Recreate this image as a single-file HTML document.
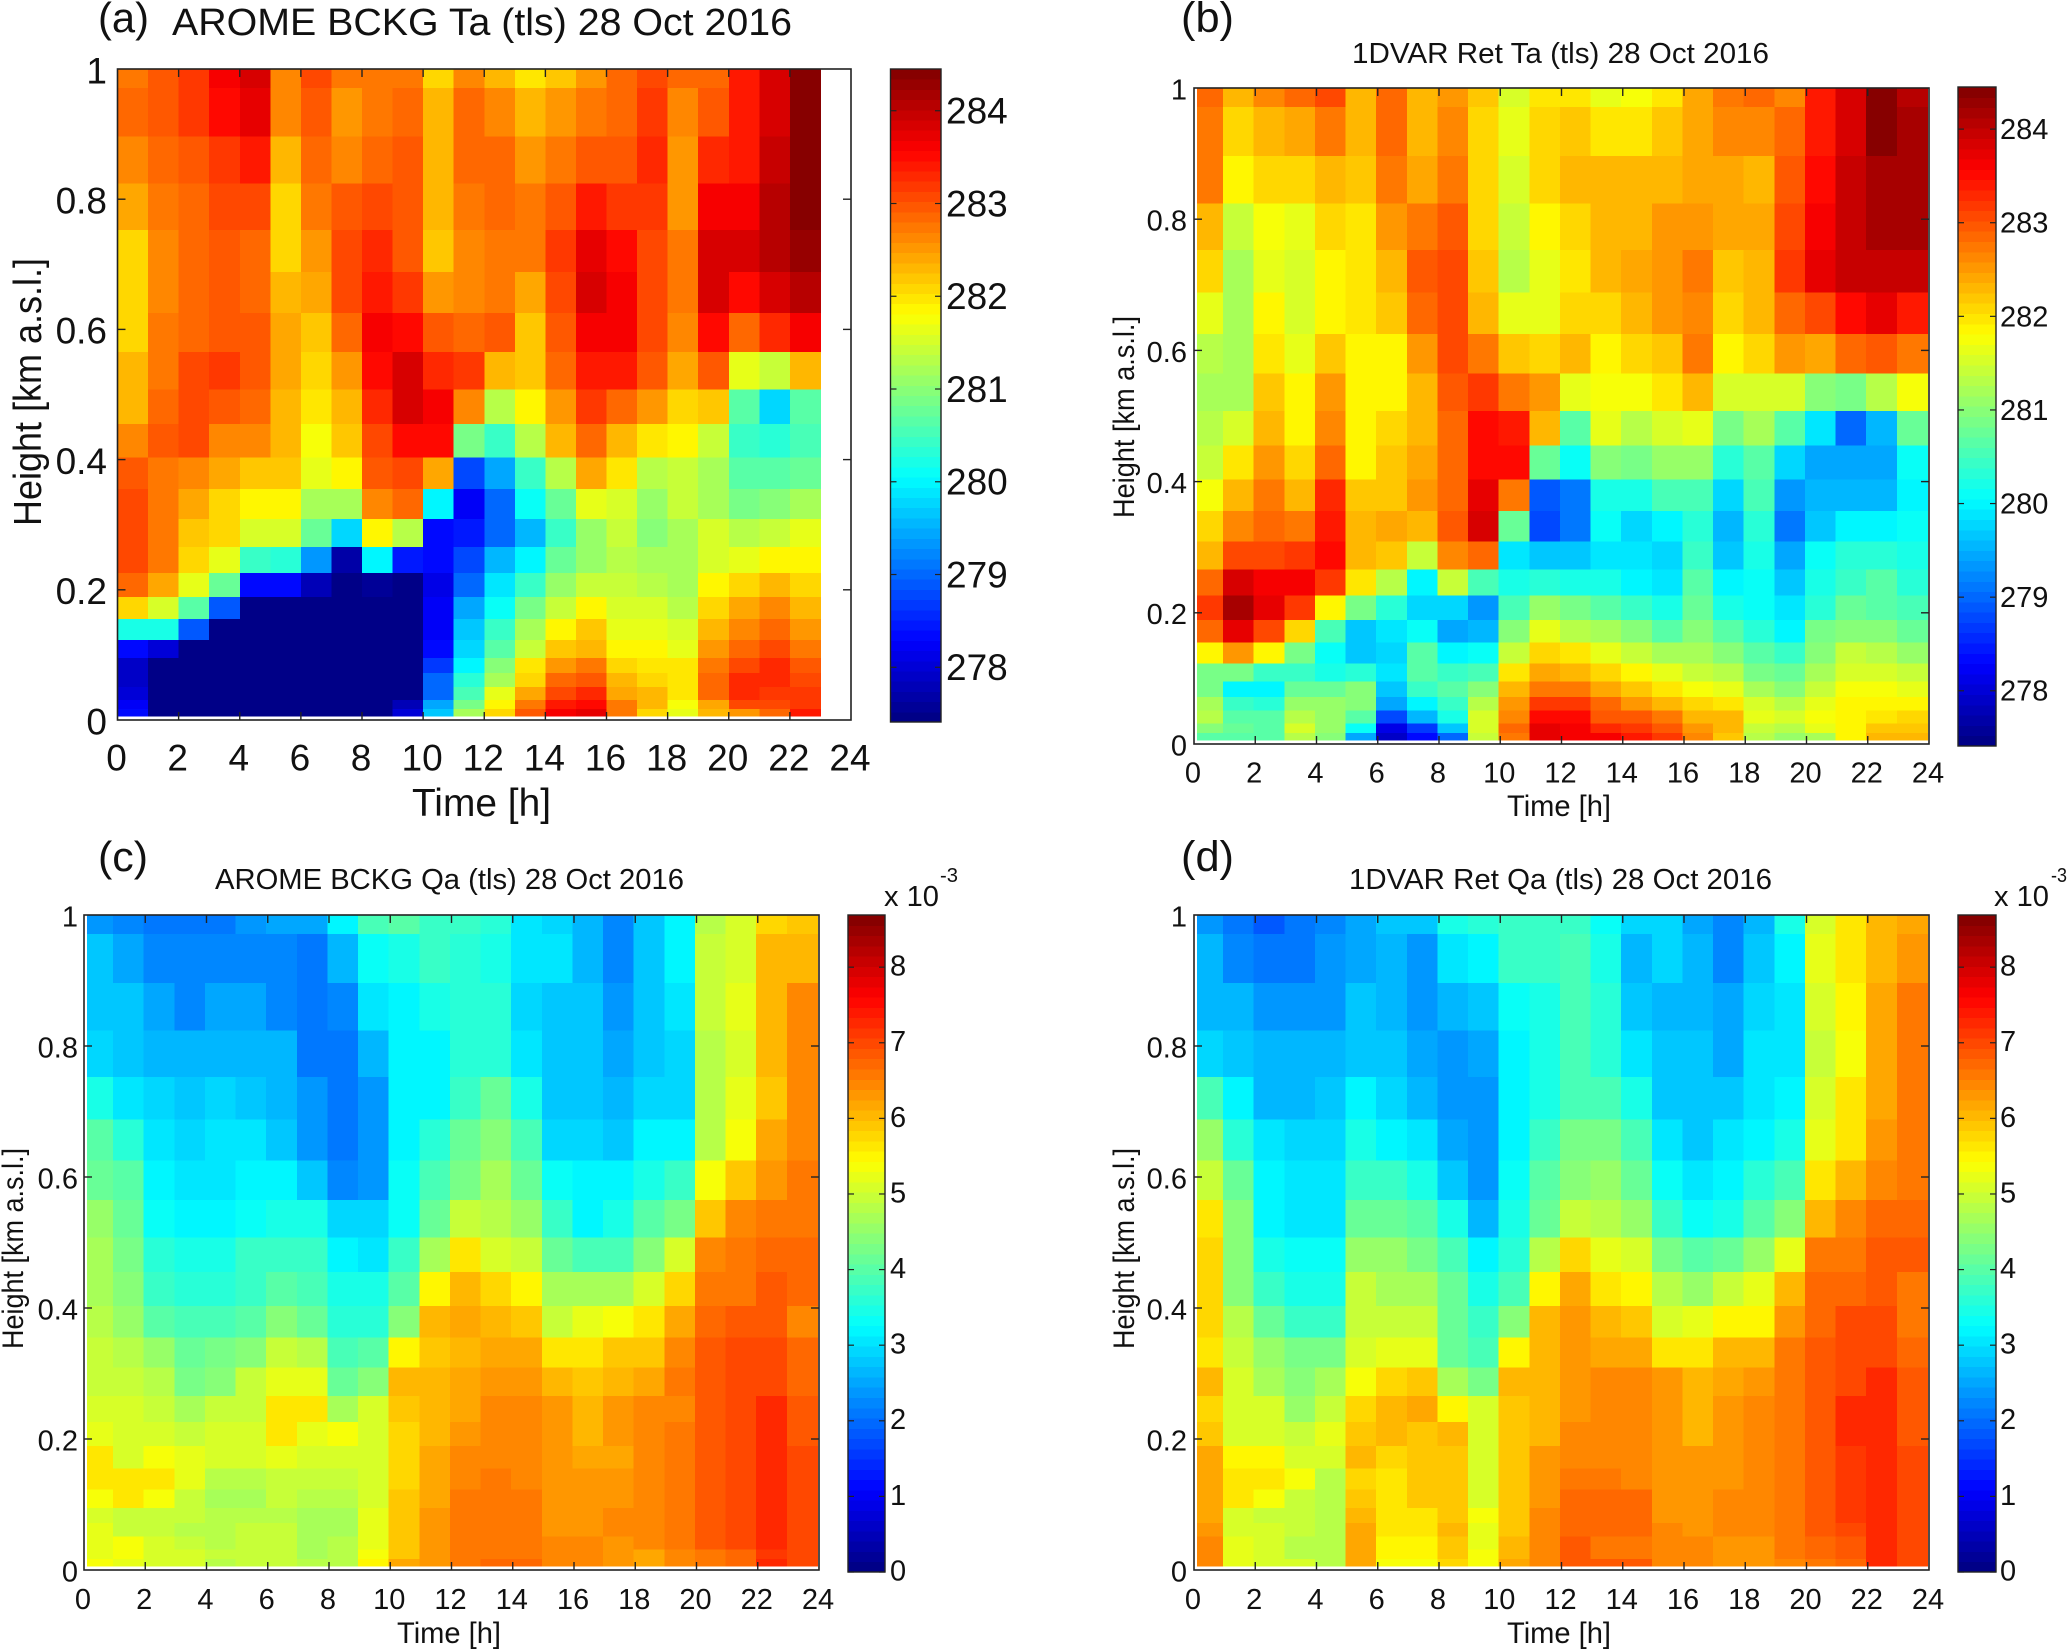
<!DOCTYPE html>
<html lang="en">
<head>
<meta charset="utf-8">
<title>AROME and 1DVAR profiles 28 Oct 2016</title>
<style>
html,body{margin:0;padding:0;background:#fff;}
svg{display:block;}
text{font-family:"Liberation Sans",sans-serif;fill:#111;}
</style>
</head>
<body>
<svg id="figure" xmlns="http://www.w3.org/2000/svg" width="2067" height="1649" viewBox="0 0 2067 1649">
  <rect x="0" y="0" width="2067" height="1649" fill="#fff"/>

  <g id="panel-a"></g>
  <g id="panel-b"></g>
  <g id="panel-c"></g>
  <g id="panel-d"></g>

  <text x="98" y="32" font-size="42" textLength="51" lengthAdjust="spacingAndGlyphs">(a)</text>
  <text x="172" y="35" font-size="38" textLength="620" lengthAdjust="spacingAndGlyphs">AROME BCKG Ta (tls) 28 Oct 2016</text>
  <text x="412" y="816" font-size="39" textLength="139" lengthAdjust="spacingAndGlyphs">Time [h]</text>
  <text transform="translate(41 526) rotate(-90)" font-size="39" textLength="268" lengthAdjust="spacingAndGlyphs">Height [km a.s.l.]</text>

  <text x="1181" y="32" font-size="43" textLength="53" lengthAdjust="spacingAndGlyphs">(b)</text>
  <text x="1352" y="63" font-size="29" textLength="417" lengthAdjust="spacingAndGlyphs">1DVAR Ret Ta (tls) 28 Oct 2016</text>
  <text x="1507" y="816" font-size="30" textLength="104" lengthAdjust="spacingAndGlyphs">Time [h]</text>
  <text transform="translate(1134 518) rotate(-90)" font-size="30" textLength="202" lengthAdjust="spacingAndGlyphs">Height [km a.s.l.]</text>

  <text x="98" y="871" font-size="42" textLength="50" lengthAdjust="spacingAndGlyphs">(c)</text>
  <text x="215" y="889" font-size="29" textLength="469" lengthAdjust="spacingAndGlyphs">AROME BCKG Qa (tls) 28 Oct 2016</text>
  <text x="397" y="1643" font-size="30" textLength="104" lengthAdjust="spacingAndGlyphs">Time [h]</text>
  <text transform="translate(23 1349) rotate(-90)" font-size="30" textLength="201" lengthAdjust="spacingAndGlyphs">Height [km a.s.l.]</text>
  <text x="884" y="906" font-size="29" textLength="55" lengthAdjust="spacingAndGlyphs">x 10</text>
  <text x="940" y="882" font-size="20" textLength="18" lengthAdjust="spacingAndGlyphs">-3</text>

  <text x="1181" y="871" font-size="43" textLength="53" lengthAdjust="spacingAndGlyphs">(d)</text>
  <text x="1349" y="889" font-size="29" textLength="423" lengthAdjust="spacingAndGlyphs">1DVAR Ret Qa (tls) 28 Oct 2016</text>
  <text x="1507" y="1643" font-size="30" textLength="104" lengthAdjust="spacingAndGlyphs">Time [h]</text>
  <text transform="translate(1134 1349) rotate(-90)" font-size="30" textLength="201" lengthAdjust="spacingAndGlyphs">Height [km a.s.l.]</text>
  <text x="1994" y="906" font-size="29" textLength="55" lengthAdjust="spacingAndGlyphs">x 10</text>
  <text x="2051" y="882" font-size="20" textLength="16" lengthAdjust="spacingAndGlyphs">-3</text>
</svg>
<script>
// Shared axis data
var heightEdges = [0.006,0.017,0.031,0.051,0.072,0.095,0.123,0.155,0.189,0.226,0.266,0.309,0.355,0.403,0.455,0.508,0.565,0.625,0.688,0.753,0.824,0.896,0.971,1.0];
var timeEdgesArome = [0,1,2,3,4,5,6,7,8,9,10,11,12,13,14,15,16,17,18,19,20,21,22,23];
var timeEdgesFull = [0.1,0.95,1.95,2.95,3.95,4.95,5.95,6.95,7.95,8.95,9.95,10.95,11.95,12.95,13.95,14.95,15.95,16.95,17.95,18.95,19.95,20.95,21.95,22.95,23.95];
var timeTicks = [0,2,4,6,8,10,12,14,16,18,20,22,24];
var heightTicks = [0,0.2,0.4,0.6,0.8,1];
var heightTickLabels = ['0','0.2','0.4','0.6','0.8','1'];
var taColorbarTicks = [278,279,280,281,282,283,284];
var qaColorbarTicks = [0,1,2,3,4,5,6,7,8];
var taRange = [277.41,284.45];
var qaRange = [0,8.69];

// Panel (a) air temperature [K]; rows run from the top of the plot down
var aromeTa = [
[282.7,283.0,283.2,283.6,283.85,282.6,283.1,282.7,282.7,282.7,282.1,282.6,282.35,281.95,282.15,282.5,282.9,283.1,282.8,282.85,283.4,283.8,284.45],
[282.8,283,283.2,283.5,283.7,282.6,283.0,282.55,282.75,282.85,282.35,282.8,282.65,282.25,282.5,282.7,282.9,283.15,282.6,283.0,283.4,283.8,284.45],
[282.6,282.8,282.95,283.2,283.4,282.35,282.9,282.65,282.85,283.0,282.35,282.85,282.85,282.5,282.7,283.0,283.0,283.25,282.5,283.3,283.45,283.95,284.45],
[282.4,282.7,282.85,283.05,283.05,282.1,282.7,282.95,283.1,283,282.25,282.7,282.85,282.7,283,283.45,283.2,283.2,282.5,283.6,283.6,284.05,284.4],
[282.1,282.6,282.8,282.95,282.85,282.1,282.5,283.05,283.25,282.95,282.2,282.6,282.75,282.7,283.2,283.7,283.5,283.1,282.7,283.85,283.8,284.05,284.3],
[282.1,282.6,282.8,283,282.8,282.25,282.4,283.1,283.45,283.2,282.55,282.6,282.75,282.4,283.1,283.85,283.6,283.1,282.7,283.85,283.55,283.8,284.1],
[282.1,282.7,282.9,283.0,282.95,282.4,282.2,282.85,283.6,283.5,282.95,282.85,282.95,282.2,283.0,283.65,283.65,283.1,282.65,283.5,282.8,283.3,283.65],
[282.25,282.7,283.05,283.2,282.95,282.4,282.05,282.55,283.5,283.85,283.25,283.15,282.3,282.15,282.9,283.45,283.45,283,282.4,282.95,281.65,281.4,282.35],
[282.3,282.85,283.1,283,282.85,282.3,281.95,282.3,283.25,283.9,283.6,282.6,281.3,281.9,282.5,283.2,282.8,282.5,282.05,282.2,280.7,279.8,280.6],
[282.6,283,283.05,282.65,282.65,282.35,281.75,282.15,283.1,283.5,283.5,280.9,280.4,281.35,282.25,282.9,282.35,281.95,281.85,281.45,280.45,280.3,280.5],
[282.95,282.7,282.65,282.4,282.2,282.15,281.6,281.85,282.95,283.1,282.4,278.8,279.4,280.4,281.3,282.4,281.95,281.3,281.45,281.2,280.6,280.65,280.8],
[283.1,282.75,282.4,282.1,281.85,281.85,281.25,281.2,282.65,282.8,280.0,278.25,279,280.05,280.75,281.65,281.5,281.1,281.4,281.2,280.9,281,281.2],
[283.05,282.7,282.15,282.05,281.5,281.5,280.75,279.75,281.85,281.35,278.35,278.45,279.05,279.55,280.45,281.15,281.4,281.0,281.2,281.5,281.35,281.45,281.6],
[283.05,282.7,282.05,281.65,280.4,280.35,279.3,277.7,280.0,278.45,278.35,278.8,279.6,280.0,280.75,281.05,281.35,281.25,281.25,281.55,281.7,281.85,281.85],
[282.85,282.45,281.65,280.8,278.4,278.3,277.75,277.45,277.55,277.45,278.15,279.05,279.85,280.4,281.05,281.45,281.45,281.35,281.2,281.85,282.05,282.3,282.05],
[282.05,281.55,280.7,278.85,277.4,277.4,277.4,277.4,277.4,277.4,278.25,279.4,280.15,280.85,281.45,281.85,281.55,281.55,281.3,282.05,282.45,282.65,282.3],
[280.2,280.2,278.85,277.4,277.4,277.4,277.4,277.4,277.4,277.4,278.25,279.7,280.4,281.25,281.85,282.15,281.65,281.65,281.5,282.25,282.65,282.8,282.55],
[278.35,278.0,277.4,277.4,277.4,277.4,277.4,277.4,277.4,277.4,278.4,279.8,280.6,281.45,282.15,282.35,281.85,281.85,281.6,282.55,282.85,283.1,282.75],
[277.9,277.4,277.4,277.4,277.4,277.4,277.4,277.4,277.4,277.4,278.7,280,280.95,281.95,282.5,282.75,282.05,281.95,281.95,282.75,283.1,283.25,283.0],
[277.85,277.4,277.4,277.4,277.4,277.4,277.4,277.4,277.4,277.4,279,280.3,281.2,282.1,282.85,283.0,282.25,282.1,281.95,282.9,283.3,283.3,283.1],
[278.05,277.4,277.4,277.4,277.4,277.4,277.4,277.4,277.4,277.5,279,280.55,281.6,282.45,283.05,283.25,282.45,282.25,281.95,282.85,283.3,283.2,283.15],
[278.25,277.4,277.4,277.4,277.4,277.4,277.4,277.4,277.4,277.8,279.45,280.9,281.85,282.7,283.35,283.5,282.7,282.3,281.8,282.45,283.1,283.1,283.2],
[278.3,277.4,277.4,277.4,277.4,277.4,277.4,277.4,277.4,278.0,279.7,281.2,282.05,282.95,283.6,283.7,282.75,282.1,281.65,282.3,282.5,282.9,283.35]
];

// Panel (b) retrieved air temperature [K]
var retrievedTa = [
[282.8,282.3,282.65,282.9,283.05,282.35,282.8,282.35,282.5,282.15,281.5,282,282,281.65,281.8,281.95,282.45,282.7,282.85,282.6,283.4,283.85,284.4,284.05],
[282.7,282.05,282.35,282.45,282.75,282.3,282.8,282.35,282.6,282.1,281.65,282.05,282.15,282,282,282.15,282.45,282.6,282.6,282.85,283.4,283.9,284.4,284.2],
[282.7,281.85,282.05,282.05,282.3,282.15,282.75,282.45,282.75,282.1,281.55,282.05,282.25,282.25,282.25,282.3,282.45,282.45,282.3,283.0,283.55,284,284.2,284.2],
[282.3,281.4,281.8,281.65,282.1,281.95,282.5,282.7,282.95,282.1,281.45,281.85,282.1,282.3,282.35,282.5,282.5,282.4,282.4,283.1,283.65,284,284.15,284.2],
[282.05,281.2,281.6,281.5,281.9,282,282.3,282.95,283.05,282.2,281.35,281.6,282,282.3,282.4,282.55,282.7,282.2,282.35,283.2,283.7,283.95,284,283.95],
[281.65,281.2,281.85,281.5,281.85,282,282.15,282.8,283.05,282.3,281.6,281.6,282.05,282.05,282.35,282.55,282.65,282.05,282.35,282.9,283.1,283.55,283.7,283.4],
[281.3,281.25,282.0,281.6,282.2,281.9,281.9,282.5,283.1,282.75,282.2,282.05,282.3,281.85,282.05,282.2,282.75,281.85,282.05,282.55,282.4,282.85,282.95,282.75],
[281.2,281.2,282.15,281.9,282.55,281.9,281.9,282.35,283.0,283.2,282.75,282.5,281.6,281.8,281.8,281.95,282.35,281.5,281.55,281.55,281,280.9,281.35,281.8],
[281.35,281.5,282.3,281.9,282.65,281.9,282.05,282.35,282.9,283.5,283.35,282.35,280.6,281.65,281.3,281.5,281.7,280.9,281.2,280.6,279.9,279.0,279.6,280.8],
[281.4,281.95,282.55,282.05,282.85,281.9,282.2,282.45,282.8,283.55,283.55,280.75,280.1,281,280.9,281.1,281.1,280.3,280.7,279.75,279.5,279.4,279.4,280.1],
[281.8,282.25,282.7,282.3,283.3,282.2,282.2,282.5,282.8,283.7,282.75,278.85,279.1,280.2,280.2,280.5,280.5,279.8,280.55,279.3,279.55,279.55,279.55,280.0],
[282.1,282.65,282.85,282.7,283.45,282.3,282.4,282.3,283,283.9,280.75,278.8,279.1,280.05,279.8,280.0,280.35,279.6,280.3,279.1,279.7,280,280,280.15],
[282.35,283.1,283.1,283.2,283.55,282.35,282.15,281.4,282.65,282.9,279.85,279.7,279.7,279.85,279.85,279.75,280.4,279.7,280.2,279.4,280.05,280.3,280.35,280.2],
[282.85,283.85,283.6,283.6,283.15,281.95,281.35,280,281.4,280.55,280.2,280.3,280.25,280.2,280,279.85,280.6,280,280.1,279.7,280.25,280.45,280.6,280.3],
[283.2,284.15,283.7,283.2,281.85,280.85,280.3,279.8,279.75,279.3,280.55,281.05,280.85,280.7,280.45,280.2,280.8,280.25,280.15,279.85,280.35,280.8,280.7,280.5],
[282.85,283.7,283.1,282.05,280.55,279.7,279.85,280.15,279.4,279.55,280.95,281.6,281.3,281.2,281,280.65,280.95,280.6,280.3,279.95,280.85,281,281,280.75],
[281.85,282.55,281.85,280.85,280.15,279.7,279.8,280.6,279.95,280.1,281.45,282.1,282,281.65,281.45,281.2,281.2,281,280.6,280.4,281,281.4,281.3,281.1],
[280.9,280.9,280.4,280.4,280.25,280.35,279.9,280.7,280.4,280.55,281.95,282.4,282.3,282.1,281.85,281.7,281.45,281.3,280.85,280.75,281.2,281.5,281.55,281.4],
[280.9,280.0,280,280.75,280.8,280.95,279.65,280.45,280.65,281,282.3,282.75,282.75,282.45,282.2,281.95,281.8,281.65,281.2,280.95,281.4,281.75,281.75,281.6],
[281.2,280.4,280.35,281.15,281.05,281,279.4,280,280.45,281.3,282.55,283.15,283.2,282.8,282.55,282.3,282.05,282.0,281.5,281.35,281.6,281.85,281.85,281.85],
[281.35,280.65,280.65,281.35,281.15,280.65,278.8,279.55,280.2,281.55,282.65,283.55,283.5,283,282.95,282.7,282.3,282.3,281.6,281.5,281.75,281.85,282,282.1],
[281.0,280.8,280.6,281.5,281.1,280.05,278.1,278.65,279.7,281.5,282.85,283.7,283.6,283.3,283.2,283,282.5,282.3,281.4,281.3,281.7,281.9,282.15,282.15],
[280.65,280.6,280.6,281.35,280.95,279.5,277.95,278.3,279.0,281.45,282.7,283.7,283.6,283.6,283.4,283.2,282.65,282.15,281.35,281.15,281.2,281.9,282.3,282.3]
];

// Panel (c) specific humidity [x 10^-3]
var aromeQa = [
[2.35,2.2,2.15,2.1,2.1,2.35,2.5,2.5,3.15,3.9,4.0,3.8,3.75,3.65,3.0,2.95,2.7,2.25,2.75,3.25,4.85,5.1,5.8,5.9],
[2.75,2.45,2.2,2.2,2.3,2.3,2.3,2.15,2.6,3.3,3.5,3.7,3.6,3.45,3.0,3.0,2.65,2.3,2.85,3.15,5.0,5.15,6.0,6.1],
[2.75,2.75,2.55,2.3,2.55,2.55,2.3,2.15,2.3,3.0,3.2,3.45,3.55,3.55,2.9,2.75,2.75,2.4,2.85,3.0,5.0,5.2,6.0,6.4],
[2.95,2.85,2.7,2.7,2.7,2.7,2.6,2.15,2.1,2.6,3.2,3.25,3.6,3.6,3.1,2.75,2.75,2.5,2.85,2.9,4.85,5.15,6.05,6.45],
[3.45,3.1,2.95,2.8,2.95,2.8,2.65,2.35,2.1,2.4,3.2,3.2,3.7,4.15,3.45,2.75,2.75,2.6,2.95,2.95,4.8,5.2,5.95,6.45],
[3.95,3.6,3.05,2.9,3.1,3.0,2.85,2.35,2.15,2.35,3.2,3.6,4.2,4.4,3.9,2.95,2.95,2.85,3.2,3.2,4.85,5.4,6.2,6.5],
[4.2,4.0,3.25,3.1,3.1,3.25,3.25,2.85,2.3,2.4,3.35,3.9,4.3,4.7,4.2,3.35,3.2,3.2,3.4,3.7,5.35,5.85,6.35,6.6],
[4.6,4.2,3.35,3.2,3.2,3.3,3.45,3.4,2.9,2.9,3.3,4.2,5.0,4.8,4.5,3.8,3.25,3.4,4.0,4.3,5.95,6.4,6.6,6.65],
[4.7,4.25,3.55,3.4,3.4,3.7,3.8,3.75,3.15,3.05,3.7,4.65,5.6,5.1,5.0,4.2,3.9,3.85,4.45,5.05,6.5,6.65,6.75,6.75],
[4.75,4.4,3.7,3.6,3.6,3.75,3.95,3.9,3.5,3.5,3.95,5.45,6.05,5.75,5.45,4.7,4.7,4.7,5.1,5.8,6.65,6.65,6.85,6.75],
[4.8,4.5,4.05,3.85,3.85,4.0,4.4,4.15,3.6,3.6,4.4,6.1,6.15,6.1,5.85,5.0,5.2,5.4,5.6,6.15,6.7,6.9,6.9,6.5],
[5.0,4.85,4.6,4.15,4.25,4.4,4.95,4.8,3.9,3.95,5.45,5.85,6.1,6.2,6.2,5.65,5.65,5.95,5.9,6.45,6.8,7.0,6.95,6.75],
[5.0,4.95,4.8,4.3,4.4,4.95,5.2,5.2,4.2,4.35,6.0,6.05,6.2,6.35,6.35,6.1,5.95,6.1,6.15,6.55,6.9,7.0,7.0,6.75],
[5.05,5.05,4.9,4.65,5.0,5.0,5.6,5.6,4.75,5.05,5.95,6.1,6.2,6.5,6.5,6.3,6.05,6.25,6.45,6.45,6.85,7.05,7.25,6.85],
[5.2,5.05,5.05,4.9,5.1,5.1,5.6,5.2,5.4,5.15,5.8,6.1,6.3,6.5,6.5,6.3,6.05,6.25,6.45,6.6,6.85,7.05,7.25,6.85],
[5.7,5.15,5.4,5.2,5.1,5.1,5.2,5.05,5.05,5.05,5.8,6.2,6.5,6.5,6.5,6.3,6.2,6.2,6.45,6.6,6.85,7.05,7.2,7.0],
[5.7,5.7,5.7,5.2,4.8,4.8,4.9,4.9,4.9,5.05,5.75,6.2,6.4,6.6,6.4,6.3,6.3,6.3,6.45,6.6,6.85,7.05,7.25,7.0],
[5.4,5.7,5.4,4.95,4.75,4.75,4.95,4.8,4.8,5.05,5.9,6.2,6.6,6.6,6.6,6.3,6.3,6.3,6.4,6.6,6.85,7.05,7.25,7.0],
[5.15,5.0,5.0,4.9,4.8,4.8,4.8,4.65,4.65,5.25,5.95,6.35,6.6,6.6,6.6,6.3,6.3,6.45,6.45,6.6,6.85,7.05,7.25,7.0],
[5.2,5.0,5.0,4.85,4.85,4.9,4.9,4.65,4.65,5.25,5.95,6.35,6.6,6.6,6.6,6.3,6.3,6.45,6.45,6.6,6.85,7.0,7.25,7.0],
[5.2,5.3,5.05,4.9,4.85,4.95,4.95,4.65,4.8,5.25,5.95,6.35,6.55,6.55,6.55,6.5,6.5,6.35,6.5,6.55,6.85,6.95,7.25,7.0],
[5.25,5.3,5.15,5.1,4.9,4.95,4.95,4.7,4.8,5.4,5.95,6.35,6.55,6.55,6.55,6.5,6.5,6.35,6.2,6.4,6.6,6.75,7.15,7.0],
[5.3,5.2,5.05,5.05,4.85,5.0,4.95,4.8,4.8,5.45,6.2,6.35,6.55,6.75,6.75,6.5,6.5,6.35,6.15,6.45,6.6,6.75,7.25,7.0]
];

// Panel (d) retrieved specific humidity [x 10^-3]
var retrievedQa = [
[2.35,2.15,1.9,2.1,2.3,2.5,2.75,2.85,3.5,3.55,3.75,3.8,3.75,3.3,2.9,2.95,2.55,2.3,2.65,3.5,5.15,5.65,6.0,6.15],
[2.7,2.3,2.15,2.15,2.35,2.55,2.6,2.4,3.05,3.2,3.7,3.8,3.9,3.5,2.65,2.9,2.6,2.3,2.75,3.15,5.25,5.65,6.0,6.3],
[2.7,2.6,2.35,2.35,2.35,2.8,2.65,2.4,2.6,2.85,3.3,3.5,3.85,3.6,2.8,2.65,2.65,2.45,2.95,3.05,5.05,5.55,6.15,6.6],
[2.95,2.85,2.6,2.6,2.6,2.85,2.75,2.45,2.4,2.55,3.25,3.45,3.85,3.65,3.05,2.75,2.75,2.55,3.0,3.05,5.0,5.35,6.2,6.65],
[3.9,3.2,2.7,2.7,2.85,3.2,2.95,2.6,2.4,2.4,3.2,3.5,3.9,3.9,3.5,2.8,2.8,2.85,3.05,3.2,5.1,5.65,6.2,6.6],
[4.5,3.55,3.05,2.9,2.9,3.5,3.2,3.0,2.55,2.4,3.25,3.7,4.25,4.3,3.85,3.05,2.85,3.0,3.2,3.45,5.2,5.7,6.3,6.65],
[5.0,4.1,3.25,3.1,3.1,3.8,3.7,3.5,2.85,2.4,3.3,4.05,4.4,4.6,4.1,3.3,3.0,3.25,3.6,3.85,5.6,6.0,6.5,6.65],
[5.6,4.35,3.25,3.1,3.1,4.2,4.2,4.05,3.4,2.7,3.4,4.2,5.0,4.8,4.5,3.8,3.3,3.45,4.0,4.45,6.1,6.4,6.7,6.7],
[5.75,4.4,3.4,3.3,3.3,4.5,4.5,4.3,3.85,3.15,3.6,4.8,5.75,5.2,5.05,4.25,3.95,4.15,4.55,5.2,6.55,6.65,6.8,6.8],
[5.8,4.35,3.7,3.5,3.5,4.9,4.75,4.75,4.2,3.45,3.9,5.5,6.2,5.65,5.45,4.85,4.55,4.95,5.2,6.05,6.7,6.7,6.85,6.65],
[5.8,4.8,4.1,3.8,3.8,4.95,4.95,4.95,4.15,3.75,4.4,6.1,6.35,6.1,5.9,5.15,5.25,5.55,5.55,6.35,6.75,6.95,6.95,6.55],
[5.6,4.9,4.5,4.25,4.25,5.1,5.25,5.25,4.2,3.9,5.5,6.0,6.25,6.2,6.2,5.7,5.65,6.05,6.0,6.55,6.85,7.05,7.05,6.7],
[6.0,5.05,4.65,4.4,4.7,5.4,5.8,5.95,4.75,4.3,6.05,6.1,6.25,6.45,6.45,6.3,6.0,6.2,6.35,6.55,6.85,7.0,7.2,6.85],
[5.8,5.15,5.05,4.6,4.9,5.75,6.0,6.15,5.45,5.1,5.85,6.05,6.35,6.5,6.5,6.3,6.05,6.35,6.45,6.6,6.85,7.3,7.3,6.85],
[5.95,5.15,5.15,4.9,5.2,5.95,6.05,5.9,6.0,5.15,5.85,6.1,6.5,6.5,6.5,6.3,6.05,6.35,6.45,6.6,6.85,7.3,7.3,6.85],
[6.15,5.45,5.45,5.05,5.15,6.0,5.8,5.9,5.9,5.15,5.85,6.25,6.5,6.5,6.5,6.35,6.25,6.35,6.45,6.6,6.85,7.15,7.3,7.0],
[6.2,5.6,5.6,5.3,4.85,5.8,5.6,5.9,5.9,5.1,5.85,6.25,6.65,6.65,6.5,6.35,6.25,6.35,6.45,6.6,6.85,7.15,7.3,7.0],
[6.2,5.6,5.3,4.9,4.85,5.95,5.6,5.9,5.9,5.1,5.95,6.25,6.7,6.7,6.7,6.35,6.35,6.45,6.45,6.6,6.85,7.15,7.3,7.0],
[6.2,5.1,5.0,4.9,4.85,6.1,5.7,5.7,5.85,5.3,5.95,6.4,6.7,6.7,6.7,6.35,6.35,6.5,6.5,6.6,6.85,7.15,7.3,7.0],
[6.35,5.15,5.1,4.9,4.85,6.2,5.7,5.7,6.0,5.25,5.95,6.4,6.7,6.7,6.7,6.45,6.35,6.5,6.5,6.6,6.85,7.0,7.2,7.0],
[6.4,5.25,5.1,4.85,4.85,6.15,5.55,5.55,5.9,5.25,6.0,6.4,6.8,6.65,6.65,6.5,6.5,6.35,6.35,6.6,6.75,6.85,7.2,7.0],
[6.4,5.25,5.1,4.85,4.85,6.15,5.5,5.5,5.85,5.3,6.0,6.4,6.8,6.65,6.65,6.5,6.5,6.35,6.35,6.55,6.75,6.85,7.25,7.0],
[6.4,5.25,5.1,5.05,4.85,6.2,5.35,5.35,5.75,5.4,6.2,6.4,6.85,6.85,6.85,6.5,6.5,6.35,6.25,6.45,6.6,6.75,7.25,7.0]
];

var SVG_NS = 'http://www.w3.org/2000/svg';
var COLOR_LEVELS = 64;

function clamp01(v) { return Math.max(0, Math.min(1, v)); }

function jet(t) {
  var q = (Math.min(COLOR_LEVELS - 1, Math.floor(clamp01(t) * COLOR_LEVELS)) + 0.5) / COLOR_LEVELS;
  var r = clamp01(Math.min(4 * q - 1.5, -4 * q + 4.5));
  var g = clamp01(Math.min(4 * q - 0.5, -4 * q + 3.5));
  var b = clamp01(Math.min(4 * q + 0.5, -4 * q + 2.5));
  return 'rgb(' + Math.round(r * 255) + ',' + Math.round(g * 255) + ',' + Math.round(b * 255) + ')';
}

function makeRect(parent, x, y, w, h, fill) {
  var el = document.createElementNS(SVG_NS, 'rect');
  el.setAttribute('x', x);
  el.setAttribute('y', y);
  el.setAttribute('width', w);
  el.setAttribute('height', h);
  el.setAttribute('fill', fill);
  parent.appendChild(el);
  return el;
}

function makeLine(parent, x1, y1, x2, y2, width) {
  var el = document.createElementNS(SVG_NS, 'line');
  el.setAttribute('x1', x1);
  el.setAttribute('y1', y1);
  el.setAttribute('x2', x2);
  el.setAttribute('y2', y2);
  el.setAttribute('stroke', '#222');
  el.setAttribute('stroke-width', width);
  parent.appendChild(el);
  return el;
}

function makeText(parent, x, y, size, anchor, str) {
  var el = document.createElementNS(SVG_NS, 'text');
  el.setAttribute('x', x);
  el.setAttribute('y', y);
  el.setAttribute('font-size', size);
  el.setAttribute('text-anchor', anchor);
  el.textContent = str;
  parent.appendChild(el);
  return el;
}

function drawPanel(cfg) {
  var group = document.getElementById(cfg.id);
  var p = cfg.plot;
  var xScale = function (h) { return p.x + h / 24 * p.w; };
  var yScale = function (km) { return p.y + p.h - km * p.h; };
  var tOf = function (v) { return (v - cfg.range[0]) / (cfg.range[1] - cfg.range[0]); };
  var nRows = cfg.rows.length;

  var cellsGroup = document.createElementNS(SVG_NS, 'g');
  cellsGroup.setAttribute('shape-rendering', 'crispEdges');
  
  
  group.appendChild(cellsGroup);

  cfg.rows.forEach(function (row, i) {
    var level = nRows - 1 - i;
    var yTop = yScale(heightEdges[level + 1]);
    var yBottom = yScale(heightEdges[level]);
    row.forEach(function (value, j) {
      var x0 = xScale(cfg.timeEdges[j]);
      var x1 = xScale(cfg.timeEdges[j + 1]);
      var cell = makeRect(cellsGroup, x0, yTop, x1 - x0 + 0.5, yBottom - yTop + 0.5, jet(tOf(value)));
      
      
    });
  });

  var box = makeRect(group, p.x, p.y, p.w, p.h, 'none');
  box.setAttribute('stroke', '#222');
  box.setAttribute('stroke-width', '1.6');
  
  

  timeTicks.forEach(function (h) {
    var x = xScale(h);
    if (h > 0 && h < 24) {
      var tickBottom = makeLine(group, x, p.y + p.h, x, p.y + p.h - 8, 1.4);
      
      
      var tickTop = makeLine(group, x, p.y, x, p.y + 8, 1.4);
      
      
    }
    var xLabel = makeText(group, x - 1, cfg.xTickY + 0.36 * cfg.tickFont, cfg.tickFont, 'middle', String(h));
    
    
  });

  heightTicks.forEach(function (km, k) {
    var y = yScale(km);
    if (km > 0 && km < 1) {
      var tickLeft = makeLine(group, p.x, y, p.x + 8, y, 1.4);
      
      
      var tickRight = makeLine(group, p.x + p.w, y, p.x + p.w - 8, y, 1.4);
      
      
    }
    var yLabel = makeText(group, cfg.yTickRight, y + 1 + 0.36 * cfg.tickFont, cfg.tickFont, 'end', heightTickLabels[k]);
    
    
  });

  var c = cfg.colorbar;
  var cbScale = function (v) { return c.y + c.h - tOf(v) * c.h; };
  var cbGroup = document.createElementNS(SVG_NS, 'g');
  cbGroup.setAttribute('shape-rendering', 'crispEdges');
  
  
  group.appendChild(cbGroup);
  for (var b = 0; b < COLOR_LEVELS; b++) {
    var bandH = c.h / COLOR_LEVELS;
    var band = makeRect(cbGroup, c.x, c.y + c.h - (b + 1) * bandH, c.w, bandH + 0.5, jet((b + 0.5) / COLOR_LEVELS));
    
    
  }
  var cbBox = makeRect(group, c.x, c.y, c.w, c.h, 'none');
  cbBox.setAttribute('stroke', '#222');
  cbBox.setAttribute('stroke-width', '1.4');
  
  

  cfg.cbTicks.forEach(function (v) {
    var y = cbScale(v);
    var tickA = makeLine(group, c.x, y, c.x + 6, y, 1.2);
    
    
    var tickB = makeLine(group, c.x + c.w, y, c.x + c.w - 6, y, 1.2);
    
    
    var label = makeText(group, cfg.cbLabelX, y + cfg.cbLabelShift + 0.36 * cfg.tickFont, cfg.tickFont, 'start', String(v));
    
    
  });
}

drawPanel({ id: 'panel-a', rows: aromeTa, timeEdges: timeEdgesArome, range: taRange, cbTicks: taColorbarTicks,
  plot: { x: 117.5, y: 69, w: 733.5, h: 651 }, colorbar: { x: 890.5, y: 69, w: 50.5, h: 653 },
  tickFont: 37, yTickRight: 107, xTickY: 757, cbLabelX: 946, cbLabelShift: -0.5 });
drawPanel({ id: 'panel-b', rows: retrievedTa, timeEdges: timeEdgesFull, range: taRange, cbTicks: taColorbarTicks,
  plot: { x: 1194, y: 88, w: 735, h: 656 }, colorbar: { x: 1958, y: 87, w: 38, h: 659 },
  tickFont: 29, yTickRight: 1187, xTickY: 772, cbLabelX: 2000, cbLabelShift: -0.5 });
drawPanel({ id: 'panel-c', rows: aromeQa, timeEdges: timeEdgesFull, range: qaRange, cbTicks: qaColorbarTicks,
  plot: { x: 84, y: 915, w: 735, h: 655 }, colorbar: { x: 848, y: 915, w: 37, h: 657 },
  tickFont: 29, yTickRight: 78, xTickY: 1598.5, cbLabelX: 890, cbLabelShift: -2 });
drawPanel({ id: 'panel-d', rows: retrievedQa, timeEdges: timeEdgesFull, range: qaRange, cbTicks: qaColorbarTicks,
  plot: { x: 1194, y: 915, w: 735, h: 655 }, colorbar: { x: 1958, y: 915, w: 38, h: 657 },
  tickFont: 29, yTickRight: 1187, xTickY: 1598.5, cbLabelX: 2000, cbLabelShift: -2 });
</script>
</body>
</html>
